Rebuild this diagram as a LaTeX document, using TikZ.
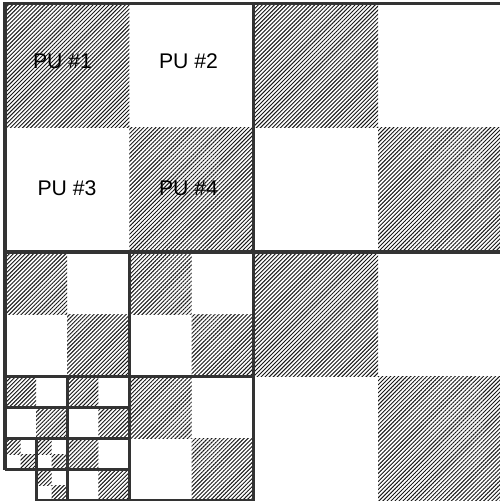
\documentclass[tikz,border=0pt]{standalone}
\usepackage{fontspec}
\setmainfont{Liberation Sans}
\usetikzlibrary{patterns.meta}
\tikzset{
  hatch/.style={pattern={Lines[angle=45,distance=2.85pt,line width=0.95pt]}, pattern color=black!90},
  border/.style={draw=black!80, line width=3.2pt},
  pulabel/.style={font=\fontsize{21.2}{25}\selectfont, inner sep=0pt, text=black}
}
\newcommand\hcell[3]{\fill[hatch] (#1,#2) rectangle ++(#3,#3);}
\begin{document}
\begin{tikzpicture}[x=1pt,y=1pt]
\useasboundingbox (0,0) rectangle (500,-501);
\clip (0,0) rectangle (500,-501);
\fill[white] (0,0) rectangle (500,-501);
\begin{scope}[shift={(5pt,-3.2pt)}, x=31.1pt, y=-31.1pt]
  % top-left CU
  \hcell{0}{0}{4} \hcell{4}{4}{4}
  % top-right CU
  \hcell{8}{0}{4} \hcell{12}{4}{4}
  % bottom-right CU
  \hcell{8}{8}{4} \hcell{12}{12}{4}
  % bottom-left quadrant
  \hcell{0}{8}{2} \hcell{2}{10}{2}
  \hcell{4}{8}{2} \hcell{6}{10}{2}
  \hcell{4}{12}{2} \hcell{6}{14}{2}
  \hcell{0}{12}{1} \hcell{1}{13}{1}
  \hcell{2}{12}{1} \hcell{3}{13}{1}
  \hcell{2}{14}{1} \hcell{3}{15}{1}
  \hcell{0}{14}{0.5} \hcell{0.5}{14.5}{0.5}
  \hcell{1}{14}{0.5} \hcell{1.5}{14.5}{0.5}
  \hcell{1}{15}{0.5} \hcell{1.5}{15.5}{0.5}
  % borders
  \draw[border] (0,15) -- (0,0) -- (16.2,0);
  \draw[border] (8,0) -- (8,16.2);
  \draw[border] (0,8) -- (16.2,8);
  \draw[border] (4,8) -- (4,16.2);
  \draw[border] (0,12) -- (8,12);
  \draw[border] (2,12) -- (2,16.2);
  \draw[border] (0,13) -- (4,13);
  \draw[border] (0,14) -- (4,14);
  \draw[border] (0,15) -- (4,15);
  \draw[border] (1,14) -- (1,16.2);
  \draw[border] (1,16) -- (8,16);
\end{scope}
\node[pulabel] (pu1) at (62.5,-61) {PU \#1};
\node[pulabel] (pu2) at (188.5,-61) {PU \#2};
\node[pulabel] (pu3) at (67,-188) {PU \#3};
\node[pulabel] (pu4) at (188.5,-188) {PU \#4};
\end{tikzpicture}
\end{document}
